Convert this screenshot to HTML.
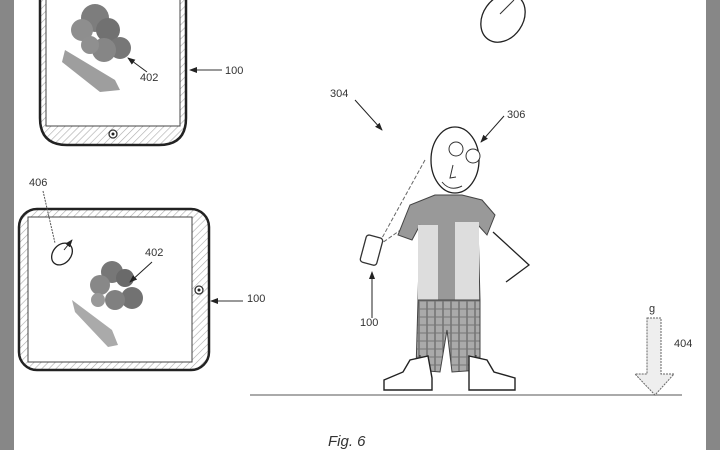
<!DOCTYPE html>
<html><head><meta charset="utf-8"><style>
html,body{margin:0;padding:0;background:#fff}
svg{display:block}
text{font-family:"Liberation Sans",sans-serif;fill:#333}
</style></head><body>
<svg width="720" height="450" viewBox="0 0 720 450" xmlns="http://www.w3.org/2000/svg">
<defs>
<pattern id="h" width="5" height="5" patternUnits="userSpaceOnUse" patternTransform="rotate(45)">
<rect width="5" height="5" fill="#fff"/><line x1="0" y1="0" x2="0" y2="5" stroke="#aaa" stroke-width="1.2"/></pattern>
<pattern id="pl" width="8" height="8" patternUnits="userSpaceOnUse">
<rect width="8" height="8" fill="#aaa"/><line x1="3" y1="0" x2="3" y2="8" stroke="#555"/><line x1="0" y1="5" x2="8" y2="5" stroke="#777"/></pattern>
<marker id="a" markerWidth="8" markerHeight="8" refX="7" refY="4" orient="auto"><path d="M0,1 L8,4 L0,7 z" fill="#222"/></marker>
</defs>
<rect x="0" y="0" width="14" height="450" fill="#878787"/>
<rect x="706" y="0" width="14" height="450" fill="#878787"/>

<!-- top phone -->
<path d="M40,-5 V118 Q40,145 67,145 H159 Q186,145 186,118 V-5 Z" fill="url(#h)" stroke="#222" stroke-width="2.5"/>
<rect x="46" y="-5" width="134" height="131" fill="#fff" stroke="#444" stroke-width="1"/>
<circle cx="113" cy="134" r="4" fill="#fff" stroke="#333" stroke-width="1.3"/><circle cx="113" cy="134" r="1.5" fill="#222"/>
<g opacity="0.95">
<path d="M65,50 L115,80 L120,90 L100,92 L62,62 Z" fill="#999"/>
<circle cx="95" cy="18" r="14" fill="#777"/><circle cx="108" cy="30" r="12" fill="#6a6a6a"/>
<circle cx="82" cy="30" r="11" fill="#888"/><circle cx="120" cy="48" r="11" fill="#707070"/>
<circle cx="104" cy="50" r="12" fill="#808080"/><circle cx="90" cy="45" r="9" fill="#8a8a8a"/>
</g>
<line x1="147" y1="72" x2="128" y2="58" stroke="#222" marker-end="url(#a)"/>
<text x="140" y="81" font-size="11">402</text>
<line x1="222" y1="70" x2="190" y2="70" stroke="#333" marker-end="url(#a)"/>
<text x="225" y="74" font-size="11">100</text>

<!-- tablet -->
<rect x="19" y="209" width="190" height="161" rx="18" fill="url(#h)" stroke="#222" stroke-width="2.5"/>
<rect x="28" y="217" width="164" height="145" fill="#fff" stroke="#444" stroke-width="1"/>
<circle cx="199" cy="290" r="4" fill="#fff" stroke="#333" stroke-width="1.3"/><circle cx="199" cy="290" r="1.5" fill="#222"/>
<path d="M72,300 L112,330 L118,345 L108,347 L75,312 Z" fill="#aaa"/>
<circle cx="112" cy="272" r="11" fill="#777"/><circle cx="125" cy="278" r="9" fill="#6a6a6a"/>
<circle cx="100" cy="285" r="10" fill="#888"/><circle cx="132" cy="298" r="11" fill="#727272"/>
<circle cx="115" cy="300" r="10" fill="#808080"/><circle cx="98" cy="300" r="7" fill="#999"/>
<ellipse cx="62" cy="254" rx="9" ry="12" transform="rotate(40 62 254)" fill="#fff" stroke="#222" stroke-width="1.3"/>
<line x1="64" y1="250" x2="72" y2="240" stroke="#222" marker-end="url(#a)"/>
<line x1="43" y1="191" x2="55" y2="243" stroke="#555" stroke-dasharray="2,1"/>
<text x="29" y="186" font-size="11">406</text>
<text x="145" y="256" font-size="11">402</text>
<line x1="152" y1="262" x2="130" y2="282" stroke="#222" marker-end="url(#a)"/>
<line x1="243" y1="301" x2="211" y2="301" stroke="#333" marker-end="url(#a)"/>
<text x="247" y="302" font-size="11">100</text>

<!-- top oval -->
<ellipse cx="503" cy="18" rx="20" ry="26" transform="rotate(35 503 18)" fill="none" stroke="#222" stroke-width="1.3"/>
<line x1="500" y1="14" x2="514" y2="0" stroke="#333"/>

<!-- person -->
<text x="330" y="97" font-size="11">304</text>
<line x1="355" y1="100" x2="382" y2="130" stroke="#222" marker-end="url(#a)"/>
<text x="507" y="118" font-size="11">306</text>
<line x1="504" y1="116" x2="481" y2="142" stroke="#222" marker-end="url(#a)"/>
<ellipse cx="455" cy="160" rx="24" ry="33" fill="#fff" stroke="#222" stroke-width="1.3"/>
<circle cx="456" cy="149" r="7" fill="#fff" stroke="#333"/><circle cx="473" cy="156" r="7" fill="#fff" stroke="#333"/>
<path d="M453,165 L450,178 L456,177 M442,182 Q450,192 462,186" fill="none" stroke="#333"/>
<line x1="425" y1="160" x2="382" y2="238" stroke="#666" stroke-dasharray="4,2"/>
<line x1="436" y1="205" x2="382" y2="243" stroke="#666" stroke-dasharray="4,2"/>
<path d="M435,195 L410,205 L398,235 L412,240 L420,225 L418,300 L480,300 L478,225 L487,235 L495,215 L482,200 L462,195 Z" fill="#999" stroke="#444"/>
<rect x="418" y="225" width="20" height="75" fill="#ddd"/><rect x="455" y="222" width="24" height="78" fill="#ddd"/>
<path d="M418,300 L416,370 L440,372 L447,330 L452,372 L480,370 L480,300 Z" fill="url(#pl)" stroke="#444"/>
<rect x="363" y="236" width="17" height="28" rx="3" transform="rotate(15 371 250)" fill="#fff" stroke="#333" stroke-width="1.3"/>
<line x1="372" y1="318" x2="372" y2="272" stroke="#222" marker-end="url(#a)"/>
<text x="360" y="326" font-size="11">100</text>
<path d="M493,232 L529,265 L506,282" fill="none" stroke="#222" stroke-width="1.3"/>
<line x1="420" y1="370" x2="420" y2="355" stroke="#333"/><line x1="476" y1="370" x2="476" y2="355" stroke="#333"/>
<path d="M384,380 L403,372 L410,360 L428,356 L432,378 L432,390 L384,390 Z" fill="#fff" stroke="#222" stroke-width="1.4"/>
<path d="M469,356 L487,360 L494,372 L515,378 L515,390 L469,390 Z" fill="#fff" stroke="#222" stroke-width="1.4"/>

<!-- ground & gravity -->
<line x1="250" y1="395" x2="682" y2="395" stroke="#777" stroke-width="1.3"/>
<path d="M647,318 H661 V374 H674 L655,395 L635,374 H647 Z" fill="#eee" stroke="#666" stroke-dasharray="2,1"/>
<text x="649" y="312" font-size="11">g</text>
<text x="674" y="347" font-size="11">404</text>
<text x="328" y="446" font-size="15" font-style="italic">Fig. 6</text>
</svg>
</body></html>
